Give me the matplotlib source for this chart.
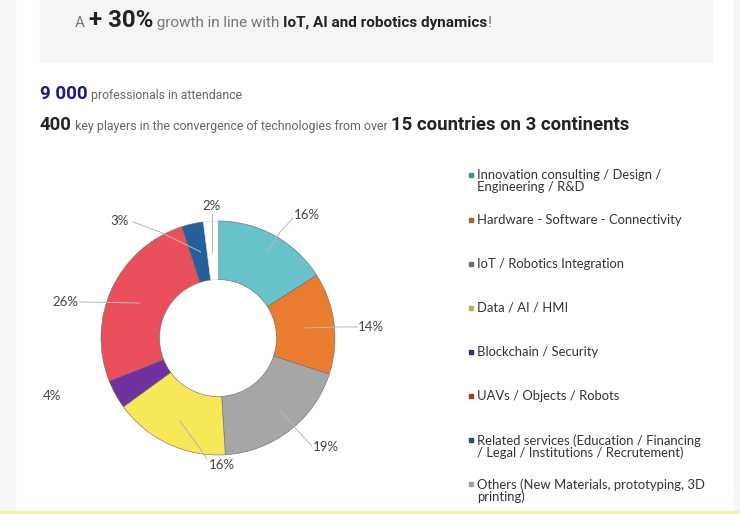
import matplotlib
matplotlib.use("Agg")
import matplotlib.pyplot as plt
from matplotlib.patches import Rectangle

W, H = 740, 514

categories = [
    "Innovation consulting / Design /\nEngineering / R&D",
    "Hardware - Software - Connectivity",
    "IoT / Robotics Integration",
    "Data / AI / HMI",
    "Blockchain / Security",
    "UAVs / Objects / Robots",
    "Related services (Education / Financing\n/ Legal / Institutions / Recrutement)",
    "Others (New Materials, prototyping, 3D\nprinting)",
]
values = [16, 14, 19, 16, 4, 26, 3, 2]
colors = ["#68c2c9", "#ec7c30", "#a6a6a6", "#f8e756", "#7131a0", "#e9505c", "#24609a", "#ffffff"]
legend_colors = ["#3f8f95", "#b0602a", "#707070", "#bcb440", "#3c2a6a", "#a8343c", "#24506e", "#a0a0a0"]
value_labels = ["16%", "14%", "19%", "16%", "4%", "26%", "3%", "2%"]

fig = plt.figure(figsize=(W / 100, H / 100), dpi=100)
ax = fig.add_axes([0, 0, 1, 1])
ax.set_xlim(0, W)
ax.set_ylim(0, H)
ax.axis("off")

def Y(y):
    return H - y

# background elements
ax.add_patch(Rectangle((0, 0), 15, H, color="#f6f6f6", zorder=0))
ax.add_patch(Rectangle((734, 0), 6, H, color="#f6f6f6", zorder=0))
ax.add_patch(Rectangle((40, Y(62)), 672, 62, color="#f5f5f5", zorder=0))
ax.add_patch(Rectangle((0, 0), W, 3, color="#f7f1a6", zorder=0))

# donut
cx, cy, R = 218, Y(338), 117
wedges, _ = ax.pie(values, colors=colors, startangle=90, counterclock=False,
                   radius=R, center=(cx, cy), frame=True,
                   wedgeprops=dict(width=R * 0.5, edgecolor="#6a6a6a", linewidth=0.4))
wedges[-1].set_edgecolor("#d8d8d8")
ax.set_xlim(0, W)
ax.set_ylim(0, H)
ax.set_aspect("equal")
ax.axis("off")

# labels with leader lines (positions in pixel coordinates)
label_pos = [(307, 215), (371, 327), (326, 447), (222, 465), (52, 396), (65, 302), (120, 221), (212, 206)]
leader = [
    [(293, 218), (280, 232), (268, 252)],
    [(357, 327), (337, 327), (305, 328)],
    [(312, 446), (298, 431), (280, 410)],
    [(207, 459), (196, 443), (180, 421)],
    None,
    [(80, 302), (140, 303)],
    [(133, 222), (160, 232), (201, 252)],
    [(212, 214), (212, 253)],
]
for lab, (x, y), ln in zip(value_labels, label_pos, leader):
    ax.text(x, Y(y), lab, ha="center", va="center", fontsize=9.5,
            color="#444444", family="Lato", zorder=5)
    if ln:
        xs = [p[0] for p in ln]
        ys = [Y(p[1]) for p in ln]
        ax.plot(xs, ys, color="#b8b8b8", lw=0.7, zorder=4)

# legend
leg_y = [175, 220, 264, 308, 352, 396, 440, 484]
for lab, col, y in zip(categories, legend_colors, leg_y):
    ax.add_patch(Rectangle((468.5, Y(y) - 2), 4, 4, color=col, zorder=5))
    ax.text(477, Y(y) + 6, lab, ha="left", va="top", fontsize=9.4,
            color="#333333", family="Lato", linespacing=1.0, zorder=5)

# rich-text helper
fig.canvas.draw()
renderer = fig.canvas.get_renderer()

def rich(x, y, parts):
    for txt, size, weight, color in parts:
        t = ax.text(x, Y(y), txt, ha="left", va="baseline", fontsize=size,
                    fontweight=weight, color=color, family="Roboto")
        bb = t.get_window_extent(renderer=renderer)
        x = ax.transData.inverted().transform((bb.x1, bb.y1))[0]

rich(75, 27, [("A ", 11, "normal", "#777777"),
              ("+ 30%", 17.3, "bold", "#222222"),
              (" growth in line with ", 11, "normal", "#777777"),
              ("IoT, AI and robotics dynamics", 11, "bold", "#222222"),
              ("!", 11, "normal", "#777777")])
rich(40, 99, [("9 000", 13.5, "bold", "#1a1a8a"),
              (" professionals in attendance", 8.85, "normal", "#666666")])
rich(40, 130, [("400", 13.3, "bold", "#222222"),
               (" key players in the convergence of technologies from over ", 8.9, "normal", "#666666"),
               ("15 countries on 3 continents", 13.3, "bold", "#222222")])

fig.savefig("out.png", dpi=100)
